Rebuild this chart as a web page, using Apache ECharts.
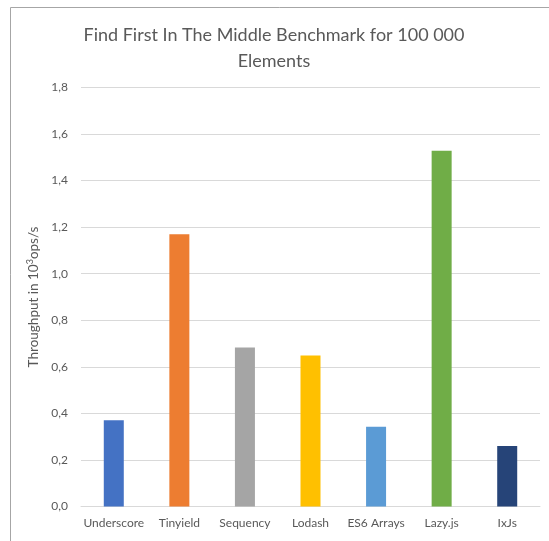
<!DOCTYPE html>
<html>
<head>
<meta charset="utf-8">
<script src="https://cdn.jsdelivr.net/npm/echarts@6/dist/echarts.min.js"></script>
<style>
html,body{margin:0;padding:0;background:#fff;}
#chart{width:549px;height:541px;}
</style>
</head>
<body>
<div id="chart"></div>
<script>
var titleText = "Find First In The Middle Benchmark for 100 000\nElements";
var categories = ["Underscore", "Tinyield", "Sequency", "Lodash", "ES6 Arrays", "Lazy.js", "IxJs"];
var throughput = [0.37, 1.17, 0.683, 0.649, 0.343, 1.528, 0.26];
var barColors = ["#4472C4", "#ED7D31", "#A5A5A5", "#FFC000", "#5B9BD5", "#70AD47", "#264478"];
var yTicks = [0, 0.2, 0.4, 0.6, 0.8, 1.0, 1.2, 1.4, 1.6, 1.8];

var FONT = "Lato, 'Liberation Sans', sans-serif";
var chart = echarts.init(document.getElementById('chart'), null, {renderer: 'canvas'});
chart.setOption({
  animation: false,
  backgroundColor: '#ffffff',
  title: {
    text: titleText,
    left: 269,
    textAlign: 'center',
    top: 17,
    textStyle: {fontFamily: FONT, fontSize: 18, fontWeight: 'normal', color: '#595959', lineHeight: 26}
  },
  graphic: [{
    type: 'polyline',
    shape: {points: [[10.5, 541], [10.5, 7.5], [549, 7.5]]},
    style: {stroke: '#a6a6a6', lineWidth: 1, fill: null},
    silent: true
  }],
  grid: {left: 81, right: 9, top: 87.5, bottom: 34.5},
  xAxis: {
    type: 'category',
    data: categories,
    axisLine: {lineStyle: {color: '#d9d9d9', width: 1}},
    axisTick: {show: false},
    axisLabel: {color: '#595959', fontFamily: FONT, fontSize: 12, margin: 11, interval: 0}
  },
  yAxis: {
    type: 'value',
    min: yTicks[0],
    max: yTicks[yTicks.length - 1],
    interval: yTicks[1] - yTicks[0],
    name: 'Throughput in 10{sup|3}ops/s',
    nameLocation: 'middle',
    nameRotate: 90,
    nameGap: 37,
    nameTextStyle: {
      color: '#595959', fontFamily: FONT, fontSize: 13.5,
      rich: {sup: {fontSize: 9, color: '#595959', fontFamily: FONT, verticalAlign: 'top', padding: [0, 0, 6, 0]}}
    },
    axisLine: {show: false},
    axisTick: {show: false},
    splitLine: {lineStyle: {color: '#d9d9d9', width: 1}},
    axisLabel: {
      color: '#595959', fontFamily: FONT, fontSize: 12, margin: 13,
      formatter: function (v) { return v.toFixed(1).replace('.', ','); }
    }
  },
  series: [{
    type: 'bar',
    barWidth: 20,
    data: throughput.map(function (v, i) {
      return {value: v, itemStyle: {color: barColors[i]}};
    })
  }]
});
</script>
</body>
</html>
